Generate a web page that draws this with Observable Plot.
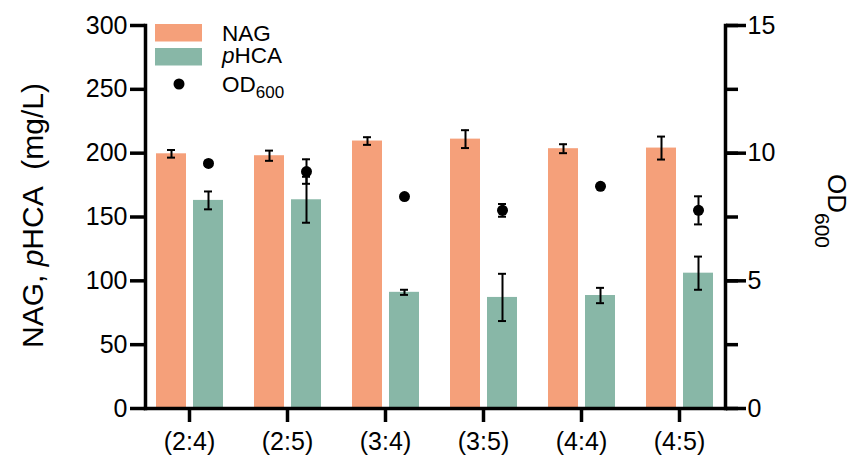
<!DOCTYPE html>
<html>
<head>
<meta charset="utf-8">
<script src="https://cdn.jsdelivr.net/npm/d3@7"></script>
<script src="https://cdn.jsdelivr.net/npm/@observablehq/plot@0.6"></script>
<style>
  body { margin: 0; background: #fff; }
  #wrap { position: relative; width: 854px; height: 458px; }
  #wrap > svg { position: absolute; left: 0; top: 0; }
</style>
</head>
<body>
<div id="wrap"></div>
<script>
// ---- data ----
const categories = ["(2:4)", "(2:5)", "(3:4)", "(3:5)", "(4:4)", "(4:5)"];
const nag     = [199.5, 198, 209.5, 211, 203.5, 204];
const nagErr  = [3, 4, 3, 7, 3.5, 9];
const phca    = [163, 163.5, 91, 87, 88.5, 106];
const phcaErr = [7, 18, 2, 18.5, 6, 13];
const od      = [9.6, 9.28, 8.3, 7.76, 8.7, 7.76];
const odErr   = [0.1, 0.48, 0.05, 0.25, 0.05, 0.55];
const leftTicks = [0, 50, 100, 150, 200, 250, 300];
const rightMajorTicks = [0, 5, 10, 15];
const rightMinorTicks = [0, 2.5, 5, 7.5, 10, 12.5, 15];
const legendLabels = ["NAG", "pHCA", "OD600"];
const colorNAG = "#F5A07A";
const colorPHCA = "#88B7A7";

const ODSCALE = 300 / 15; // right axis maps onto left axis
const rows = categories.map((c, i) => ({
  cat: c, nag: nag[i], nagErr: nagErr[i], phca: phca[i], phcaErr: phcaErr[i],
  od: od[i] * ODSCALE, odErr: odErr[i] * ODSCALE
}));

const font = '"Liberation Sans", Arial, Helvetica, sans-serif';
const chart = Plot.plot({
  width: 854, height: 458,
  marginLeft: 145, marginRight: 129, marginTop: 25, marginBottom: 50,
  style: { fontFamily: font, fontSize: "25px", color: "#000", background: "transparent", overflow: "visible" },
  x: { type: "band", domain: categories, range: [140, 728], padding: 0 },
  y: { domain: [0, 300] },
  marks: [
    Plot.barY(rows, { x: "cat", y: "nag", fill: colorNAG, insetLeft: 16, insetRight: 52 }),
    Plot.barY(rows, { x: "cat", y: "phca", fill: colorPHCA, insetLeft: 53, insetRight: 15 }),
    // NAG error bars
    Plot.ruleX(rows, { x: "cat", y1: d => d.nag - d.nagErr, y2: d => d.nag + d.nagErr, dx: -18, stroke: "#000", strokeWidth: 2 }),
    Plot.tickY(rows, { x: "cat", y: d => d.nag + d.nagErr, insetLeft: 27, insetRight: 63, stroke: "#000", strokeWidth: 2 }),
    Plot.tickY(rows, { x: "cat", y: d => d.nag - d.nagErr, insetLeft: 27, insetRight: 63, stroke: "#000", strokeWidth: 2 }),
    // pHCA error bars
    Plot.ruleX(rows, { x: "cat", y1: d => d.phca - d.phcaErr, y2: d => d.phca + d.phcaErr, dx: 19, stroke: "#000", strokeWidth: 2 }),
    Plot.tickY(rows, { x: "cat", y: d => d.phca + d.phcaErr, insetLeft: 64, insetRight: 26, stroke: "#000", strokeWidth: 2 }),
    Plot.tickY(rows, { x: "cat", y: d => d.phca - d.phcaErr, insetLeft: 64, insetRight: 26, stroke: "#000", strokeWidth: 2 }),
    // OD error bars + dots
    Plot.ruleX(rows, { x: "cat", y1: d => d.od - d.odErr, y2: d => d.od + d.odErr, dx: 19, stroke: "#000", strokeWidth: 2 }),
    Plot.tickY(rows, { x: "cat", y: d => d.od + d.odErr, insetLeft: 64, insetRight: 26, stroke: "#000", strokeWidth: 2 }),
    Plot.tickY(rows, { x: "cat", y: d => d.od - d.odErr, insetLeft: 64, insetRight: 26, stroke: "#000", strokeWidth: 2 }),
    Plot.dot(rows, { x: "cat", y: "od", dx: 19, r: 5.5, fill: "#000" }),
    // axes
    Plot.axisY({ ticks: leftTicks, anchor: "left", tickSize: 15, tickPadding: 3, fontSize: 25, strokeWidth: 3.5, label: null }),
    Plot.axisY({ ticks: rightMinorTicks.map(v => v * ODSCALE), anchor: "right", tickSize: 12, tickFormat: () => "", strokeWidth: 3.5, label: null }),
    Plot.axisY({ ticks: rightMajorTicks.map(v => v * ODSCALE), anchor: "right", tickSize: 20, tickPadding: 2, tickFormat: d => String(d / ODSCALE), fontSize: 25, strokeWidth: 3.5, label: null }),
    Plot.axisX({ tickSize: 14, tickPadding: 10, fontSize: 25, strokeWidth: 3.5, label: null }),
    Plot.frame({ anchor: "left", strokeWidth: 3.5 }),
    Plot.frame({ anchor: "right", strokeWidth: 3.5 }),
    Plot.frame({ anchor: "bottom", strokeWidth: 3.5 })
  ]
});
document.getElementById("wrap").appendChild(chart);

// ---- overlay: legend + axis titles ----
const ov = d3.select("#wrap").append("svg")
  .attr("width", 854).attr("height", 458)
  .style("pointer-events", "none")
  .attr("font-family", font);

// legend
ov.append("rect").attr("x", 155).attr("y", 24).attr("width", 47).attr("height", 17.5).attr("fill", colorNAG);
ov.append("rect").attr("x", 155).attr("y", 48).attr("width", 47).attr("height", 17.5).attr("fill", colorPHCA);
ov.append("circle").attr("cx", 179).attr("cy", 84).attr("r", 5.5).attr("fill", "#000");
ov.append("text").attr("x", 222).attr("y", 40.7).attr("font-size", 22.5).text(legendLabels[0]);
const t2 = ov.append("text").attr("x", 222).attr("y", 63.3).attr("font-size", 22.5);
t2.append("tspan").attr("font-style", "italic").text(legendLabels[1].slice(0, 1));
t2.append("tspan").text(legendLabels[1].slice(1));
const t3 = ov.append("text").attr("x", 222).attr("y", 91.7).attr("font-size", 22.5);
t3.append("tspan").text(legendLabels[2].slice(0, 2));
t3.append("tspan").attr("font-size", 17).attr("dy", 6).text(legendLabels[2].slice(2));

// left title
const lt = ov.append("text").attr("transform", "translate(43,215.5) rotate(-90)")
  .attr("text-anchor", "middle").attr("font-size", 30).style("white-space", "pre");
lt.append("tspan").text("NAG, ");
lt.append("tspan").attr("font-style", "italic").text("p");
lt.append("tspan").text("HCA\u00a0\u00a0(mg/L)");

// right title
const rt = ov.append("text").attr("transform", "translate(828,211) rotate(90)")
  .attr("text-anchor", "middle").attr("font-size", 26);
rt.append("tspan").text("OD");
rt.append("tspan").attr("font-size", 21).attr("dy", 13).text("600");
</script>
</body>
</html>
